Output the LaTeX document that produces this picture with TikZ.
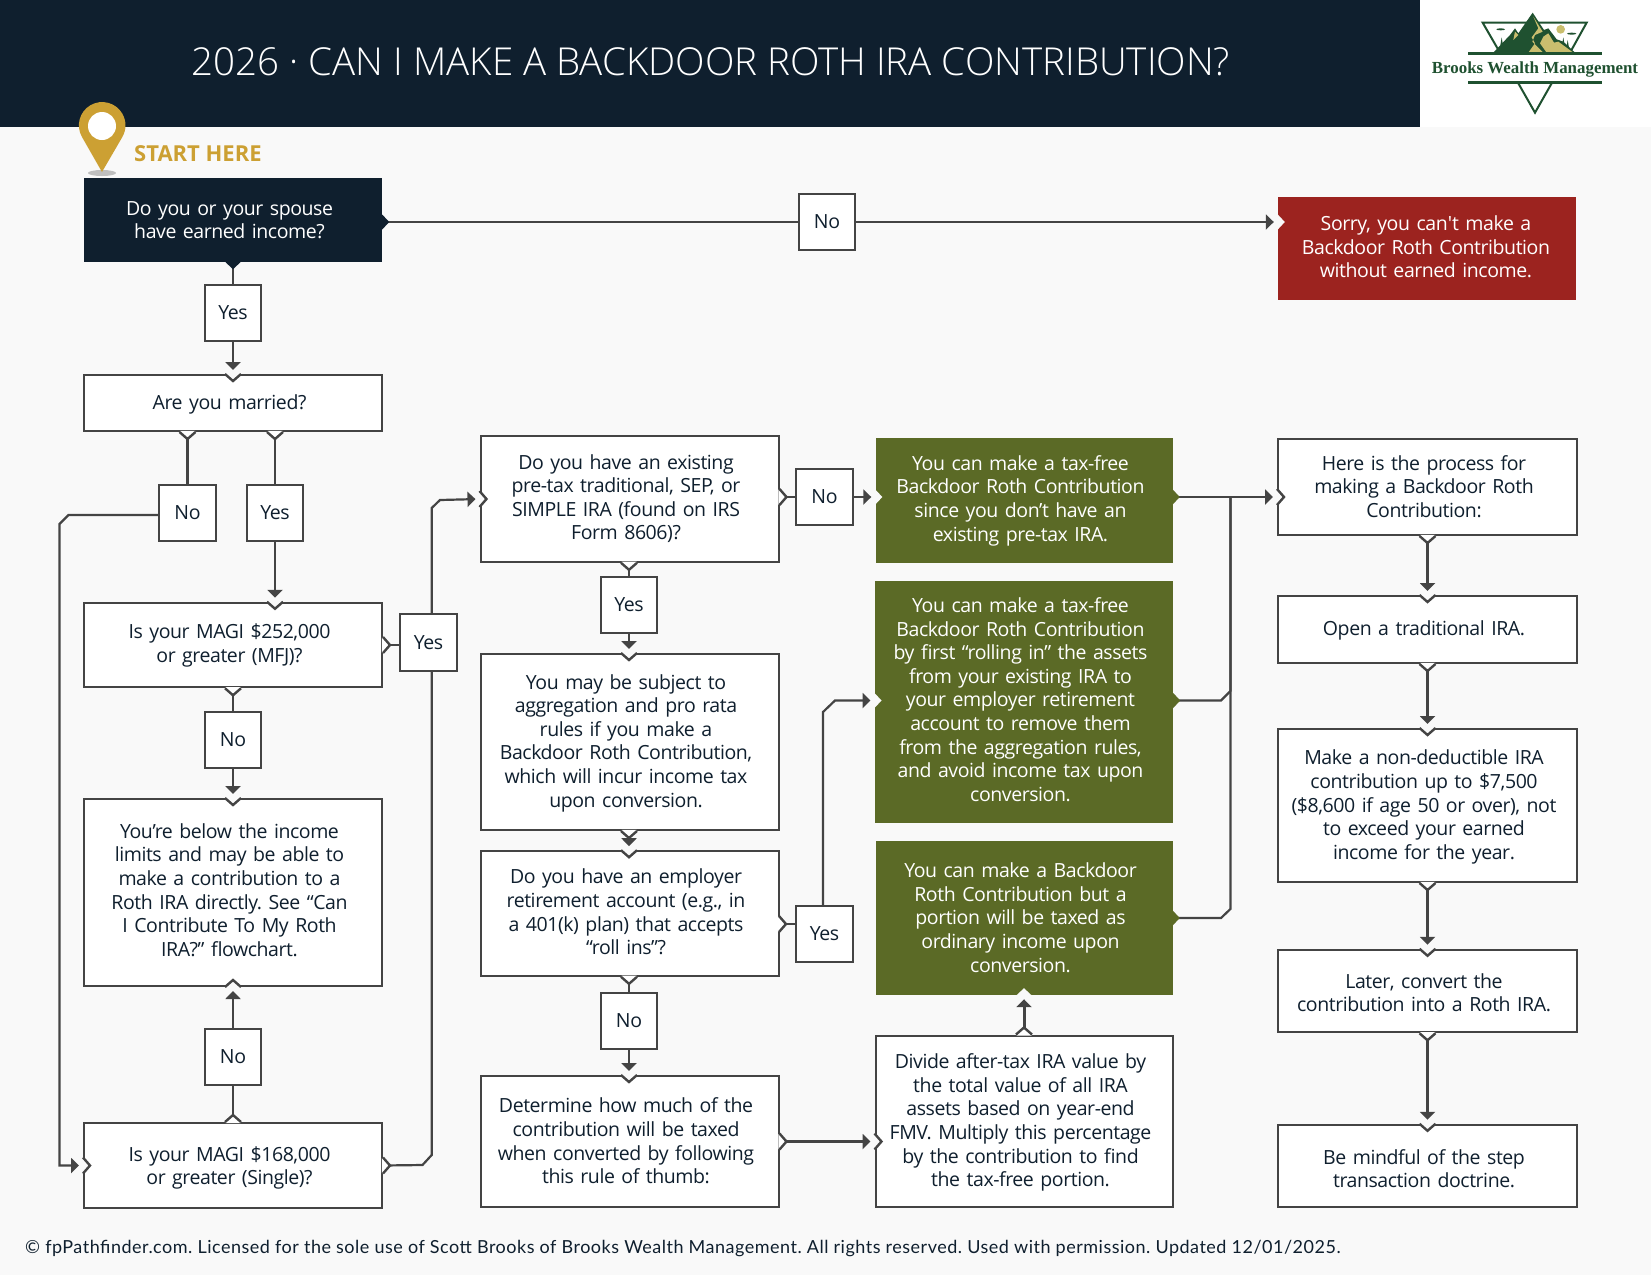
\documentclass[tikz,border=0pt]{standalone}
\usepackage{fontspec}
\setmainfont{Open Sans}
\newfontfamily\lightfont{Open Sans}[UprightFont=* Light]
\newfontfamily\legalfont{Lato}
\newfontfamily\logofont{Liberation Serif}
\usepackage{tikz}
\usetikzlibrary{arrows.meta}

\definecolor{navy}{HTML}{0F1F2E}
\definecolor{moss}{HTML}{5B6A26}
\definecolor{brick}{HTML}{9C231F}
\definecolor{page}{HTML}{F9F9F9}
\definecolor{wire}{HTML}{444444}
\definecolor{gold}{HTML}{CCA033}
\definecolor{pine}{HTML}{1F5130}
\definecolor{sand}{HTML}{C9BE6E}

\tikzset{
  bodyfont/.style={font=\fontsize{19.5}{23.6}\selectfont\addfontfeature{LetterSpace=-2.2}\frenchspacing},
  body/.style={bodyfont, inner sep=0pt, text width=284pt, align=center, text height=14pt,
    execute at begin node={\advance\rightskip by 7pt}},
  plain/.style={body, draw=wire, line width=2pt, fill=white, text=navy},
  dark/.style={body, fill=navy, text=white},
  good/.style={body, fill=moss, text=white},
  bad/.style={body, fill=brick, text=white},
  tag/.style={bodyfont, inner sep=0pt, draw=wire, line width=2.2pt, fill=white, text=navy, minimum width=56.5, minimum height=56.5},
  wired/.style={draw=wire, line width=2.2pt},
  flow/.style={wired, -{Triangle[length=8pt,width=15pt]}, shorten >=4pt},
  pics/notch/.style 2 args={code={
    \fill[#1] (-7.5,1.2) -- (7.5,1.2) -- (7.5,0) -- (0,-7) -- (-7.5,0) -- cycle;
    \path[draw=#2, line width=2.4pt] (-8,0) -- (0,-7) -- (8,0);
  }}
}

\begin{document}
\begin{tikzpicture}[x=1pt, y=1pt]

\useasboundingbox (0,-1275) rectangle (1651,0);
\fill[page] (0,-1275) rectangle (1651,0);
\fill[navy] (0,-127) rectangle (1420,0);
\fill[white] (1420,-127) rectangle (1651,0);

\node[text=white, font=\lightfont\fontsize{38.5}{42}\selectfont] (title) at (711,-62) {2026 · CAN I MAKE A BACKDOOR ROTH IRA CONTRIBUTION?};

\begin{scope}[shift={(1400,0)}, x=0.3333pt, y=-0.3333pt]
\draw[pine, line width=2pt, fill=white] (300,158) -- (248,68) -- (560,68) -- (510,158);
\fill[sand] (482,88) circle (13);
\fill[pine] (302,88) ellipse (13 and 3);
\fill[pine] (515,101) ellipse (14 and 3);
\foreach \treex/\treey in {305/112, 490/112, 503/120}
  \fill[pine] (\treex,\treey) -- ++(4,24) -- ++(-8,0) -- cycle;
\fill[pine] (280,158) -- (330,105) -- (345,85) -- (355,100) -- (398,38) -- (432,90) -- (445,85) -- (470,118) -- (490,125) -- (525,158) -- cycle;
\fill[sand] (400,50) -- (428,95) -- (405,105) -- (397,125) -- (430,158) -- (385,158) -- (405,130) -- (395,112) -- (415,85) -- cycle;
\fill[sand] (445,100) -- (462,128) -- (475,125) -- (520,158) -- (440,158) -- (420,130) -- (430,110) -- cycle;
\fill[sand] (345,95) -- (355,105) -- (340,120) -- cycle;
\draw[pine, line width=3pt] (205,160) -- (605,160);
\draw[pine, line width=3pt] (205,247) -- (605,247);
\draw[pine, line width=2pt] (355,250) -- (405,338) -- (455,250);
\node[text=pine, font=\logofont\bfseries\fontsize{16.9}{18}\selectfont] (brand) at (405,208) {Brooks Wealth Management};
\end{scope}

\fill[black!25] (102,-173) ellipse (14 and 3);
\fill[gold] (102,-172) -- (82,-137) arc (210:-30:23.3) -- cycle;
\fill[white] (102,-126) circle (14);
\node[text=gold, font=\bfseries\fontsize{22}{26}\selectfont, anchor=base west, inner sep=0pt] (here) at (134,-161) {START HERE};

\node[dark, minimum width=298, minimum height=84] (earned) at (233,-220) {Do you or your spouse\\have earned income?};
\node[tag] (yesA) at (233,-313) {Yes};
\node[plain, minimum width=298, minimum height=56, text height=17pt] (married) at (233,-403) {Are you married?};
\node[tag] (noB) at (187.5,-513) {No};
\node[tag] (yesB) at (275,-513) {Yes};
\node[plain, minimum width=298, minimum height=84.5, text height=16pt] (magiJoint) at (233,-645) {Is your MAGI \$252,000\\or greater (MFJ)?};
\node[tag] (noC) at (233,-740) {No};
\node[plain, minimum width=298, minimum height=187, text height=10pt] (below) at (233,-892.5) {You’re below the income\\limits and may be able to\\make a contribution to a\\Roth IRA directly. See “Can\\I Contribute To My Roth\\IRA?” flowchart.};
\node[tag] (noD) at (233,-1057) {No};
\node[plain, minimum width=298, minimum height=85, text height=20pt] (magiSingle) at (233,-1165.5) {Is your MAGI \$168,000\\or greater (Single)?};

\node[plain, minimum width=298, minimum height=125.6] (pretax) at (629.5,-499) {Do you have an existing\\pre-tax traditional, SEP, or\\SIMPLE IRA (found on IRS\\Form 8606)?};
\node[tag] (yesE) at (629,-605) {Yes};
\node[plain, minimum width=298, minimum height=176, text height=17pt] (prorata) at (629.5,-742) {You may be subject to\\aggregation and pro rata\\rules if you make a\\Backdoor Roth Contribution,\\which will incur income tax\\upon conversion.};
\node[plain, minimum width=298, minimum height=124.6, text height=12pt] (employer) at (629.5,-913.5) {Do you have an employer\\retirement account (e.g., in\\a 401(k) plan) that accepts\\“roll ins”?};
\node[tag] (noF) at (629,-1021) {No};
\node[plain, minimum width=298, minimum height=131] (thumb) at (629.5,-1141.5) {Determine how much of the\\contribution will be taxed\\when converted by following\\this rule of thumb:};
\node[tag] (noE) at (824.5,-497) {No};
\node[tag] (yesF) at (824.5,-934) {Yes};

\node[good, minimum width=297, minimum height=125, text height=16pt] (taxfree) at (1024,-500) {You can make a tax-free\\Backdoor Roth Contribution\\since you don’t have an\\existing pre-tax IRA.};
\node[good, minimum width=298, minimum height=242, text height=10pt] (rollin) at (1024,-702) {You can make a tax-free\\Backdoor Roth Contribution\\by first “rolling in” the assets\\from your existing IRA to\\your employer retirement\\account to remove them\\from the aggregation rules,\\and avoid income tax upon\\conversion.};
\node[good, minimum width=297, minimum height=154] (portion) at (1024,-918) {You can make a Backdoor\\Roth Contribution but a\\portion will be taxed as\\ordinary income upon\\conversion.};
\node[plain, minimum width=297, minimum height=171, text height=18pt] (divide) at (1024,-1121) {Divide after-tax IRA value by\\the total value of all IRA\\assets based on year-end\\FMV. Multiply this percentage\\by the contribution to find\\the tax-free portion.};

\node[bad, minimum width=298, minimum height=103, text height=12pt, execute at begin node={\advance\leftskip by 5pt}] (sorry) at (1427,-248.5) {Sorry, you can{\addfontfeature{Ligatures=TeXOff}'}t make a\\Backdoor Roth Contribution\\without earned income.};
\node[tag] (noA) at (827,-222) {No};
\node[plain, minimum width=299, minimum height=96] (process) at (1427.5,-487) {Here is the process for\\making a Backdoor Roth\\Contribution:};
\node[plain, minimum width=299, minimum height=67, text height=17pt] (open) at (1427.5,-629.5) {Open a traditional IRA.};
\node[plain, minimum width=299, minimum height=153, text height=18pt] (deposit) at (1427.5,-805.5) {Make a non-deductible IRA\\contribution up to \$7,500\\(\$8,600 if age 50 or over), not\\to exceed your earned\\income for the year.};
\node[plain, minimum width=299, minimum height=82.5, text height=18pt] (convert) at (1427.5,-991) {Later, convert the\\contribution into a Roth IRA.};
\node[plain, minimum width=299, minimum height=82.5, text height=20pt] (mindful) at (1427.5,-1166) {Be mindful of the step\\transaction doctrine.};

\node[text=navy, font=\legalfont\fontsize{18}{20}\selectfont\addfontfeature{LetterSpace=2.8}\frenchspacing, anchor=west, inner sep=0pt] (legal) at (25,-1248) {© fpPathfinder.com. Licensed for the sole use of Scott Brooks of Brooks Wealth Management. All rights reserved. Used with permission. Updated 12/01/2025.};

\coordinate (merge) at (1230.4,-497);
\coordinate (bendin) at (874.5,-700.5);

\draw[wired] (earned) -- (yesA);
\draw[flow] (yesA) -- (married);
\draw[wired] (noB |- married.south) -- (noB);
\draw[wired] (yesB |- married.south) -- (yesB);
\draw[flow] (yesB) -- (magiJoint.north -| yesB);
\draw[wired] (magiJoint) -- (noC);
\draw[flow] (noC) -- (below);
\draw[flow] (noD) -- (below);
\draw[wired] (magiSingle) -- (noD);
\draw[flow] (noB.west |- 0,-515) -- (68.5,-515) -- (59.5,-524) -- (59.5,-1165.5) -- (magiSingle.west);
\draw[flow] (magiSingle.east) -- (422.5,-1165) -- (431.7,-1155) -- (431.7,-508) -- (440,-500) -- (pretax.west);
\node[tag] (yesC) at (428.5,-642.5) {Yes};
\draw[wired] (magiJoint.east) -- (yesC.west |- magiJoint.east);

\draw[wired] (pretax.south -| yesE) -- (yesE);
\draw[flow] (yesE) -- (prorata.north -| yesE);
\draw[flow] (prorata.south -| yesE) -- (employer.north -| yesE);
\draw[wired] (employer.south -| noF) -- (noF);
\draw[flow] (noF) -- (thumb.north -| noF);
\draw[wired] (pretax.east |- noE) -- (noE);
\draw[flow] (noE) -- (taxfree.west |- noE);
\draw[wired] (779,-924) -- (yesF.west |- 0,-924);
\draw[flow] (823,-905.5) -- (823,-712) -- (835,-700.5) -- (bendin);
\draw[flow] (thumb.east) -- (divide.west |- thumb.east);
\draw[flow, line width=3pt] (divide.north) -- (portion.south);
\draw[wired] (rollin.east |- bendin) -- (1221,-700.5) -- (1230.4,-691) -- (merge);
\draw[wired] (portion.east) -- (1221,-918) -- (1230.4,-909) -- (merge);
\draw[flow] (taxfree.east |- noE) -- (process.west |- noE);

\draw[wired] (earned.east |- noA) -- (noA);
\draw[flow] (noA) -- (sorry.west |- noA);

\draw[flow] (process.south) -- (open.north);
\draw[flow] (open) -- (deposit);
\draw[flow] (deposit) -- (convert);
\draw[flow] (convert) -- (mindful);

\pic at (earned.south) {notch={navy}{none}};
\pic[rotate=90] at (earned.east |- noA) {notch={navy}{none}};
\pic[rotate=90] at (sorry.west |- noA) {notch={page}{none}};
\pic at (married.north) {notch={page}{wire}};
\pic at (married.south -| noB) {notch={white}{wire}};
\pic at (married.south -| yesB) {notch={white}{wire}};
\pic at (magiJoint.north -| yesB) {notch={page}{wire}};
\pic at (magiJoint.south) {notch={white}{wire}};
\pic[rotate=90] at (magiJoint.east) {notch={white}{wire}};
\pic at (below.north) {notch={page}{wire}};
\pic[rotate=180] at (below.south) {notch={page}{wire}};
\pic[rotate=180] at (magiSingle.north) {notch={white}{wire}};
\pic[rotate=90] at (magiSingle.west) {notch={page}{wire}};
\pic[rotate=90] at (magiSingle.east) {notch={white}{wire}};

\pic[rotate=90] at (pretax.west) {notch={page}{wire}};
\pic[rotate=90] at (pretax.east |- noE) {notch={white}{wire}};
\pic at (pretax.south -| yesE) {notch={white}{wire}};
\pic at (prorata.north -| yesE) {notch={page}{wire}};
\pic at (prorata.south -| yesE) {notch={white}{wire}};
\pic at (employer.north -| yesE) {notch={page}{wire}};
\pic at (employer.south -| noF) {notch={white}{wire}};
\pic[rotate=90] at (779,-924) {notch={white}{wire}};
\pic at (thumb.north -| noF) {notch={page}{wire}};
\pic[rotate=90] at (thumb.east) {notch={white}{wire}};

\pic[rotate=90] at (taxfree.west |- noE) {notch={page}{none}};
\pic[rotate=90] at (taxfree.east |- noE) {notch={moss}{none}};
\pic[rotate=90] at (bendin) {notch={page}{none}};
\pic[rotate=90] at (rollin.east |- bendin) {notch={moss}{none}};
\pic[rotate=90] at (portion.east) {notch={moss}{none}};
\pic[rotate=180] at (portion.south) {notch={page}{none}};
\pic[rotate=90] at (divide.west |- thumb.east) {notch={page}{wire}};
\pic[rotate=180] at (divide.north) {notch={white}{wire}};

\pic[rotate=90] at (process.west |- noE) {notch={page}{wire}};
\pic at (process.south) {notch={white}{wire}};
\pic at (open.north) {notch={page}{wire}};
\pic at (open.south) {notch={white}{wire}};
\pic at (deposit.north) {notch={page}{wire}};
\pic at (deposit.south) {notch={white}{wire}};
\pic at (convert.north) {notch={page}{wire}};
\pic at (convert.south) {notch={white}{wire}};
\pic at (mindful.north) {notch={page}{wire}};

\end{tikzpicture}
\end{document}
